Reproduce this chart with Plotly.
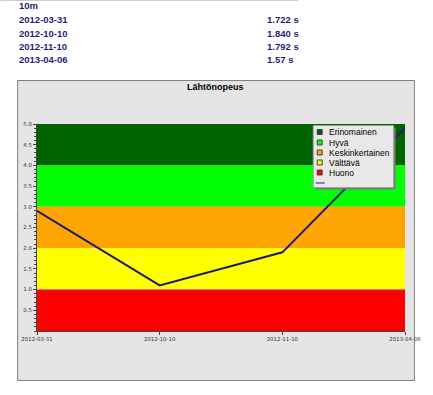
import plotly.graph_objects as go

# ---- data ----
dates = ["2012-03-31", "2012-10-10", "2012-11-10", "2013-04-06"]
times = ["1.722 s", "1.840 s", "1.792 s", "1.57 s"]
scores = [2.9, 1.1, 1.9, 4.9]
band_names = ["Erinomainen", "Hyvä", "Keskinkertainen", "Välttävä", "Huono"]
band_low = [4, 3, 2, 1, 0]
band_high = [5, 4, 3, 2, 1]
band_colors = ["#006400", "#00ff00", "#ffa500", "#ffff00", "#ff0000"]
header_label = "10m"
chart_title = "Lähtönopeus"

W, H = 433, 395
L, R, T, B = 37, 408, 124, 331
pw, ph = R - L, B - T


def px(x):
    return (x - L) / pw


def py(y):
    return (B - y) / ph


xi = list(range(len(dates)))
fig = go.Figure()

for name, lo, hi, col in zip(band_names, band_low, band_high, band_colors):
    fig.add_trace(go.Scatter(
        x=[xi[0], xi[-1], xi[-1], xi[0]], y=[lo, lo, hi, hi],
        fill="toself", fillcolor=col, mode="none", name=name,
        showlegend=False, hoverinfo="skip"))

fig.add_trace(go.Scatter(x=xi, y=scores, mode="lines",
                         line=dict(color="#1c1c80", width=2),
                         showlegend=False))

shapes = []
ann = []
# top faint line
shapes.append(dict(type="line", xref="paper", yref="paper",
                   x0=px(0), x1=px(300), y0=py(0.5), y1=py(0.5),
                   line=dict(color="#cccccc", width=1)))
# gray box
shapes.append(dict(type="rect", xref="paper", yref="paper", layer="below",
                   x0=px(17.5), x1=px(417.5), y0=py(380.5), y1=py(80.5),
                   fillcolor="#e5e5e5", line=dict(color="#808080", width=1)))

# header text
hc = "#1f1f7a"
hfont = dict(family="Liberation Sans, Arial", size=9.5, color=hc, weight="bold")
ann.append(dict(x=px(17), y=py(6), xref="paper", yref="paper", text=header_label,
                showarrow=False, xanchor="left", yanchor="middle", font=hfont))
row_y = [19.5, 33, 46, 59.5]
for d, t, yy in zip(dates, times, row_y):
    ann.append(dict(x=px(17), y=py(yy), xref="paper", yref="paper", text=d,
                    showarrow=False, xanchor="left", yanchor="middle", font=hfont))
    ann.append(dict(x=px(267), y=py(yy), xref="paper", yref="paper", text=t,
                    showarrow=False, xanchor="left", yanchor="middle", font=hfont))

# title
ann.append(dict(x=px(217), y=py(87), xref="paper", yref="paper", text=chart_title,
                showarrow=False, xanchor="center", yanchor="middle",
                font=dict(family="Liberation Sans, Arial", size=9, color="#000", weight="bold")))

# legend (manual)
lx0, lx1, ly0, ly1 = 315.5, 396.5, 125.5, 187.5
shapes.append(dict(type="rect", xref="paper", yref="paper",
                   x0=px(lx0 + 2), x1=px(lx1 + 2), y0=py(ly1 + 2), y1=py(ly0 + 2),
                   fillcolor="#7a7a7a", line=dict(width=0)))
shapes.append(dict(type="rect", xref="paper", yref="paper",
                   x0=px(lx0), x1=px(lx1), y0=py(ly1), y1=py(ly0),
                   fillcolor="#e8e8e8", line=dict(color="#a0a0a0", width=1)))
leg_y = [132, 142.5, 152.5, 162.5, 172.5]
for name, col, yy in zip(band_names, band_colors, leg_y):
    shapes.append(dict(type="rect", xref="paper", yref="paper",
                       x0=px(319.5), x1=px(324.5), y0=py(yy + 2.5), y1=py(yy - 2.5),
                       fillcolor=col, line=dict(color="#404040", width=1)))
    ann.append(dict(x=px(329.5), y=py(yy), xref="paper", yref="paper", text=name,
                    showarrow=False, xanchor="left", yanchor="middle",
                    font=dict(family="Liberation Sans, Arial", size=8.5, color="#000")))
shapes.append(dict(type="line", xref="paper", yref="paper",
                   x0=px(318), x1=px(327), y0=py(183), y1=py(183),
                   line=dict(color="#8080c8", width=2)))

fig.update_layout(
    width=W, height=H,
    margin=dict(l=L, r=W - R, t=T, b=H - B, pad=0),
    paper_bgcolor="white", plot_bgcolor="#e5e5e5",
    showlegend=False,
    shapes=shapes, annotations=ann,
    font=dict(family="DejaVu Sans", size=5, color="#333333"),
)
fig.update_xaxes(range=[xi[0], xi[-1]], tickvals=xi, ticktext=dates,
                 showgrid=False, zeroline=False, ticks="outside", ticklen=3,
                 tickcolor="#444", showline=True, linecolor="#444", linewidth=1,
                 tickfont=dict(family="DejaVu Sans", size=5.4, color="#333"))
fig.update_yaxes(range=[0, 5], tickvals=[0.5 * i for i in range(1, 11)],
                 tickformat=".1f", showgrid=False, zeroline=False,
                 ticks="outside", ticklen=3, tickcolor="#444",
                 showline=True, linecolor="#444", linewidth=1,
                 minor=dict(dtick=0.1, ticks="outside", ticklen=2, tickcolor="#444"),
                 tickfont=dict(family="DejaVu Sans", size=5.4, color="#333"))

fig.write_html("out.html", config={"displayModeBar": False},
               post_script="document.body.style.margin='0';document.body.style.overflow='hidden';")
